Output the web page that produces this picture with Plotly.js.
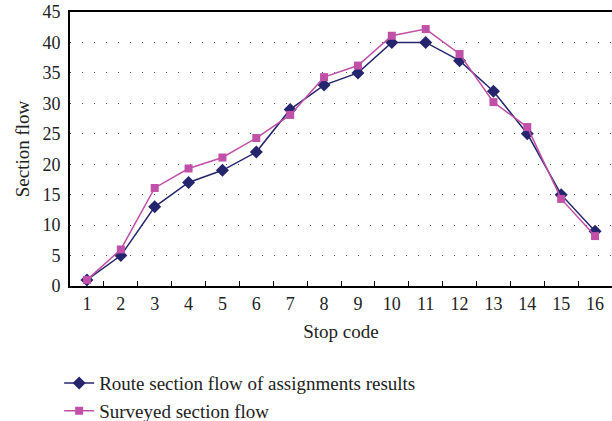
<!DOCTYPE html>
<html><head><meta charset="utf-8">
<script src="https://cdn.plot.ly/plotly-3.0.1.min.js"></script>
<style>html,body{margin:0;padding:0;background:#fff}#chart{width:612px;height:421px}</style>
</head><body><div id="chart"></div>
<script>
const stops = ['1','2','3','4','5','6','7','8','9','10','11','12','13','14','15','16'];
const assigned = [1,5,13,17,19,22,29,33,35,40,40,37,32,25,15,9];
const surveyed = [1,6,16.1,19.3,21.1,24.3,28.1,34.3,36.2,41.1,42.2,38.1,30.2,26.1,14.3,8.2];
const seriesNames = ['Route section flow of assignments results','Surveyed section flow'];

const fam = 'Liberation Serif';
const font = {family:fam, color:'#222', size:18};
const traces = [
  {x:stops, y:assigned, name:seriesNames[0], type:'scatter', mode:'lines+markers',
   line:{color:'#25256e', width:1.5}, marker:{symbol:'diamond', size:10, color:'#25256e'}},
  {x:stops, y:surveyed, name:seriesNames[1], type:'scatter', mode:'lines+markers',
   line:{color:'#c050a8', width:1.5}, marker:{symbol:'square', size:8, color:'#c050a8'}}
];
const layout = {
  width:612, height:421,
  margin:{l:70, r:0, t:12, b:135, autoexpand:false},
  paper_bgcolor:'#fff', plot_bgcolor:'#fff',
  font:font,
  showlegend:true,
  legend:{x:-0.02, y:-0.285, xanchor:'left', yanchor:'top', orientation:'v',
          font:{family:fam, size:19, color:'#222'}, tracegroupgap:0,
          bgcolor:'rgba(0,0,0,0)'},
  xaxis:{type:'category', categoryorder:'array', categoryarray:stops,
         tickson:'boundaries', ticks:'inside', ticklen:5, tickcolor:'#000',
         showline:true, linecolor:'#000', linewidth:2, mirror:true,
         showgrid:false, zeroline:false, range:[-0.5,15.5], automargin:false,
         tickfont:{family:fam, size:18, color:'#222'},
         title:{text:'Stop code', font:{family:fam, size:19, color:'#222'}, standoff:12}},
  yaxis:{range:[0,45], dtick:5, tick0:0, ticks:'', showline:true, linecolor:'#000', linewidth:2,
         showgrid:true, gridcolor:'#555', gridwidth:1.2, griddash:'1.2px,10.8px', zeroline:false,
         automargin:false,
         tickfont:{family:fam, size:18, color:'#222'}, ticklabelstandoff:4,
         title:{text:'Section flow', font:{family:fam, size:19, color:'#222'}, standoff:8}}
};
Plotly.newPlot('chart', traces, layout, {displayModeBar:false, staticPlot:true});
</script></body></html>
